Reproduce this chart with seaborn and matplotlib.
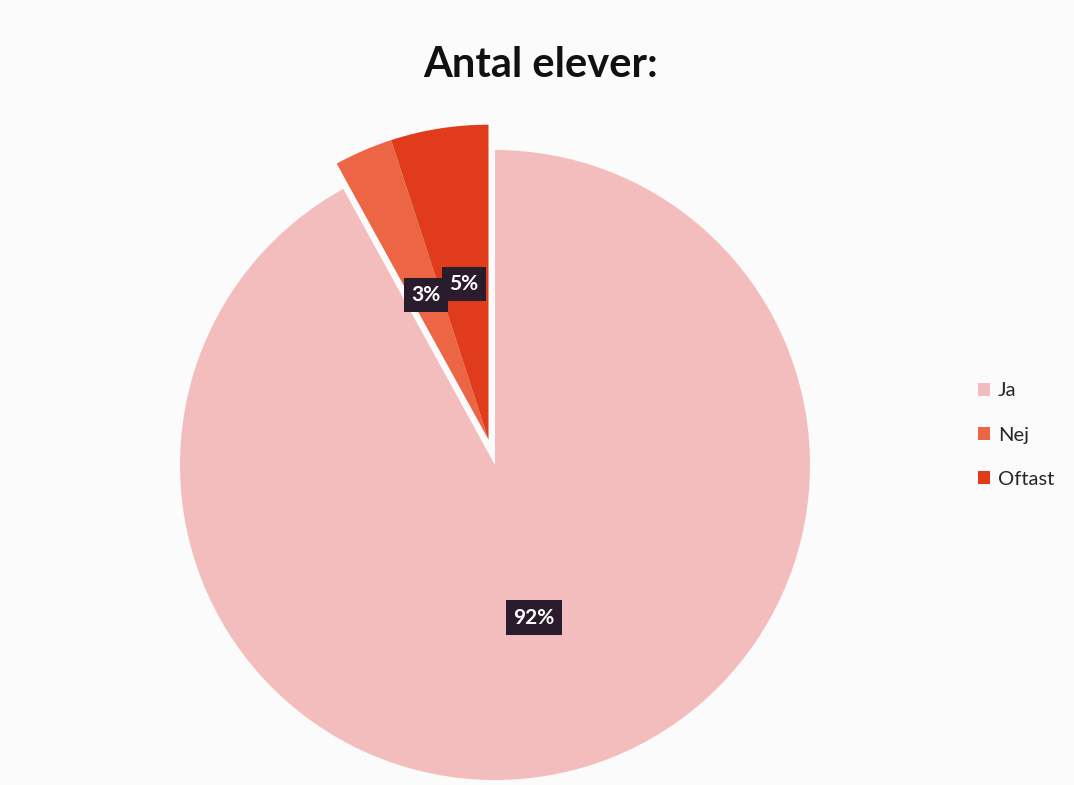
import matplotlib
matplotlib.use("Agg")
import matplotlib.pyplot as plt
import seaborn as sns
import numpy as np

categories = ["Ja", "Nej", "Oftast"]
values = [92, 3, 5]
colors = ["#F3BDBD", "#EC6544", "#E03C1C"]
title = "Antal elever:"

sns.set_theme(style="white")
plt.rcParams["font.family"] = ["Lato", "DejaVu Sans"]

W, H = 1074, 785
fig = plt.figure(figsize=(W / 100, H / 100), dpi=100, facecolor="#FBFBFC")

R_px = 315
cx, cy = 495, H - 465
lim = 1.1
ax = fig.add_axes([(cx - lim * R_px) / W, (cy - lim * R_px) / H,
                   2 * lim * R_px / W, 2 * lim * R_px / H])
ax.set_facecolor("none")

box = dict(boxstyle="square,pad=0.35", facecolor="#2A1C2C", edgecolor="none")
txt = dict(color="white", fontsize=15, fontweight="bold")

# main slice (Ja)
c1 = [colors[0], "none", "none"]
w1, _, t1 = ax.pie(values, colors=c1, startangle=90, counterclock=False,
                   autopct=lambda p: f"{p:.0f}%" if p > 50 else "",
                   pctdistance=0.5, textprops=txt,
                   wedgeprops=dict(linewidth=0))

# exploded group (Nej + Oftast) moved together
grp = values[1] + values[2]
mid = np.deg2rad(90 + grp / sum(values) * 360 / 2)
expl = 0.083
center = (expl * np.cos(mid), expl * np.sin(mid))
c2 = ["none", colors[1], colors[2]]
w2, _, t2 = ax.pie(values, colors=c2, startangle=90, counterclock=False,
                   center=center,
                   autopct=lambda p: f"{p:.0f}%" if p < 50 else "",
                   pctdistance=0.5, textprops=txt,
                   wedgeprops=dict(linewidth=0))

for t in list(t1) + list(t2):
    if t.get_text():
        t.set_bbox(box)

ax.set_xlim(-lim, lim)
ax.set_ylim(-lim, lim)
ax.set_aspect("equal")
ax.axis("off")

fig.text(541 / W, 1 - 65 / H, title, ha="center", va="center",
         fontsize=30, fontweight="bold", color="#111111")

handles = [w1[0], w2[1], w2[2]]
fig.legend(handles, categories, loc="center left",
           bbox_to_anchor=(978 / W, 1 - 435 / H), frameon=False,
           borderaxespad=0, borderpad=0,
           fontsize=14.5, handlelength=0.6, handleheight=0.6,
           handletextpad=0.4, labelspacing=1.35)

fig.savefig("out.png", dpi=100, facecolor=fig.get_facecolor())
